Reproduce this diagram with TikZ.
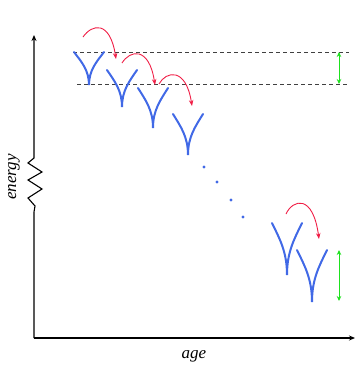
\documentclass[tikz,border=0pt]{standalone}
\usepackage{fontspec}
\setmainfont{Liberation Serif}
\usetikzlibrary{arrows.meta}
\definecolor{vblue}{RGB}{65,105,230}
\definecolor{ared}{RGB}{240,30,70}
\definecolor{agreen}{RGB}{30,225,30}
\tikzset{
  vee/.style={draw=vblue, line width=2pt, line cap=round},
  hop/.style={draw=ared, line width=0.9pt, -{Stealth[length=6pt,width=4.5pt]}},
  gap/.style={draw=agreen, line width=1pt, {Stealth[length=5pt,width=4.5pt]}-{Stealth[length=5pt,width=4.5pt]}},
  level/.style={draw=black!75, line width=0.6pt, dash pattern=on 4pt off 3pt},
  axis/.style={draw=black, line width=1.1pt},
  lab/.style={font=\fontsize{17}{19}\selectfont\itshape, inner sep=0pt},
  dot/.style={circle, fill=vblue, inner sep=0pt, minimum size=3.4pt}
}
\newcommand{\vshape}[4]{% left x, top y, width, height
  \draw[vee] (#1,#2) .. controls ({#1+0.25*#3},{#2+0.3*#4}) and ({#1+0.5*#3},{#2+0.55*#4}) .. ({#1+0.5*#3},{#2+#4})
             .. controls ({#1+0.5*#3},{#2+0.55*#4}) and ({#1+0.75*#3},{#2+0.3*#4}) .. ({#1+#3},#2);
}
\begin{document}
\begin{tikzpicture}[x=1pt,y=-1pt]
\useasboundingbox (0,0) rectangle (359,381);
% axes
\coordinate (o) at (34,338);
\coordinate (ytop) at (34,35);
\coordinate (xend) at (355,338);
\coordinate (z0) at (34,158);
\coordinate (z1) at (34,212);
\draw[axis, -{Stealth[length=6pt,width=5pt]}] (o) -- (z1) -- (35,206) -- (28,198) -- (42,189) -- (28,180) -- (42,172) -- (28,163) -- (z0) -- (ytop);
\draw[axis, -{Stealth[length=6pt,width=5pt]}] (o) -- (xend);
\node[lab, rotate=90] (energy) at (14,177) {energy};
\node[lab] (age) at (194,356) {age};
% dashed levels
\coordinate (d1a) at (73,52);
\coordinate (d1b) at (349,52);
\coordinate (d2a) at (77,84);
\coordinate (d2b) at (349,84);
\draw[level] (d1a) -- (d1b);
\draw[level] (d2a) -- (d2b);
% green arrows
\coordinate (g1a) at (339,52);
\coordinate (g1b) at (339,84);
\coordinate (g2a) at (339,250);
\coordinate (g2b) at (339,301);
\draw[gap] (g1a) -- (g1b);
\draw[gap] (g2a) -- (g2b);
% V shapes
\vshape{74}{52}{30}{33}
\vshape{107}{70}{30}{37}
\vshape{138}{88}{30}{40}
\vshape{173}{114}{30}{41}
\vshape{272}{223}{30}{52}
\vshape{297}{250}{30}{52}
% red hops
\coordinate (h1s) at (83,37);
\coordinate (h1e) at (116,59);
\coordinate (h2s) at (122,63);
\coordinate (h2e) at (155,85);
\coordinate (h3s) at (159,84);
\coordinate (h3e) at (192,106);
\coordinate (h4s) at (286,214);
\coordinate (h4e) at (319,239);
\draw[hop] (h1s) .. controls (92,24) and (110,20) .. (h1e);
\draw[hop] (h2s) .. controls (130,50) and (149,46) .. (h2e);
\draw[hop] (h3s) .. controls (166,71) and (186,67) .. (h3e);
\draw[hop] (h4s) .. controls (293,199) and (313,194) .. (h4e);
% dots
\node[dot] (p1) at (204,167) {};
\node[dot] (p2) at (217,182) {};
\node[dot] (p3) at (231,200) {};
\node[dot] (p4) at (243,217) {};
\end{tikzpicture}
\end{document}
